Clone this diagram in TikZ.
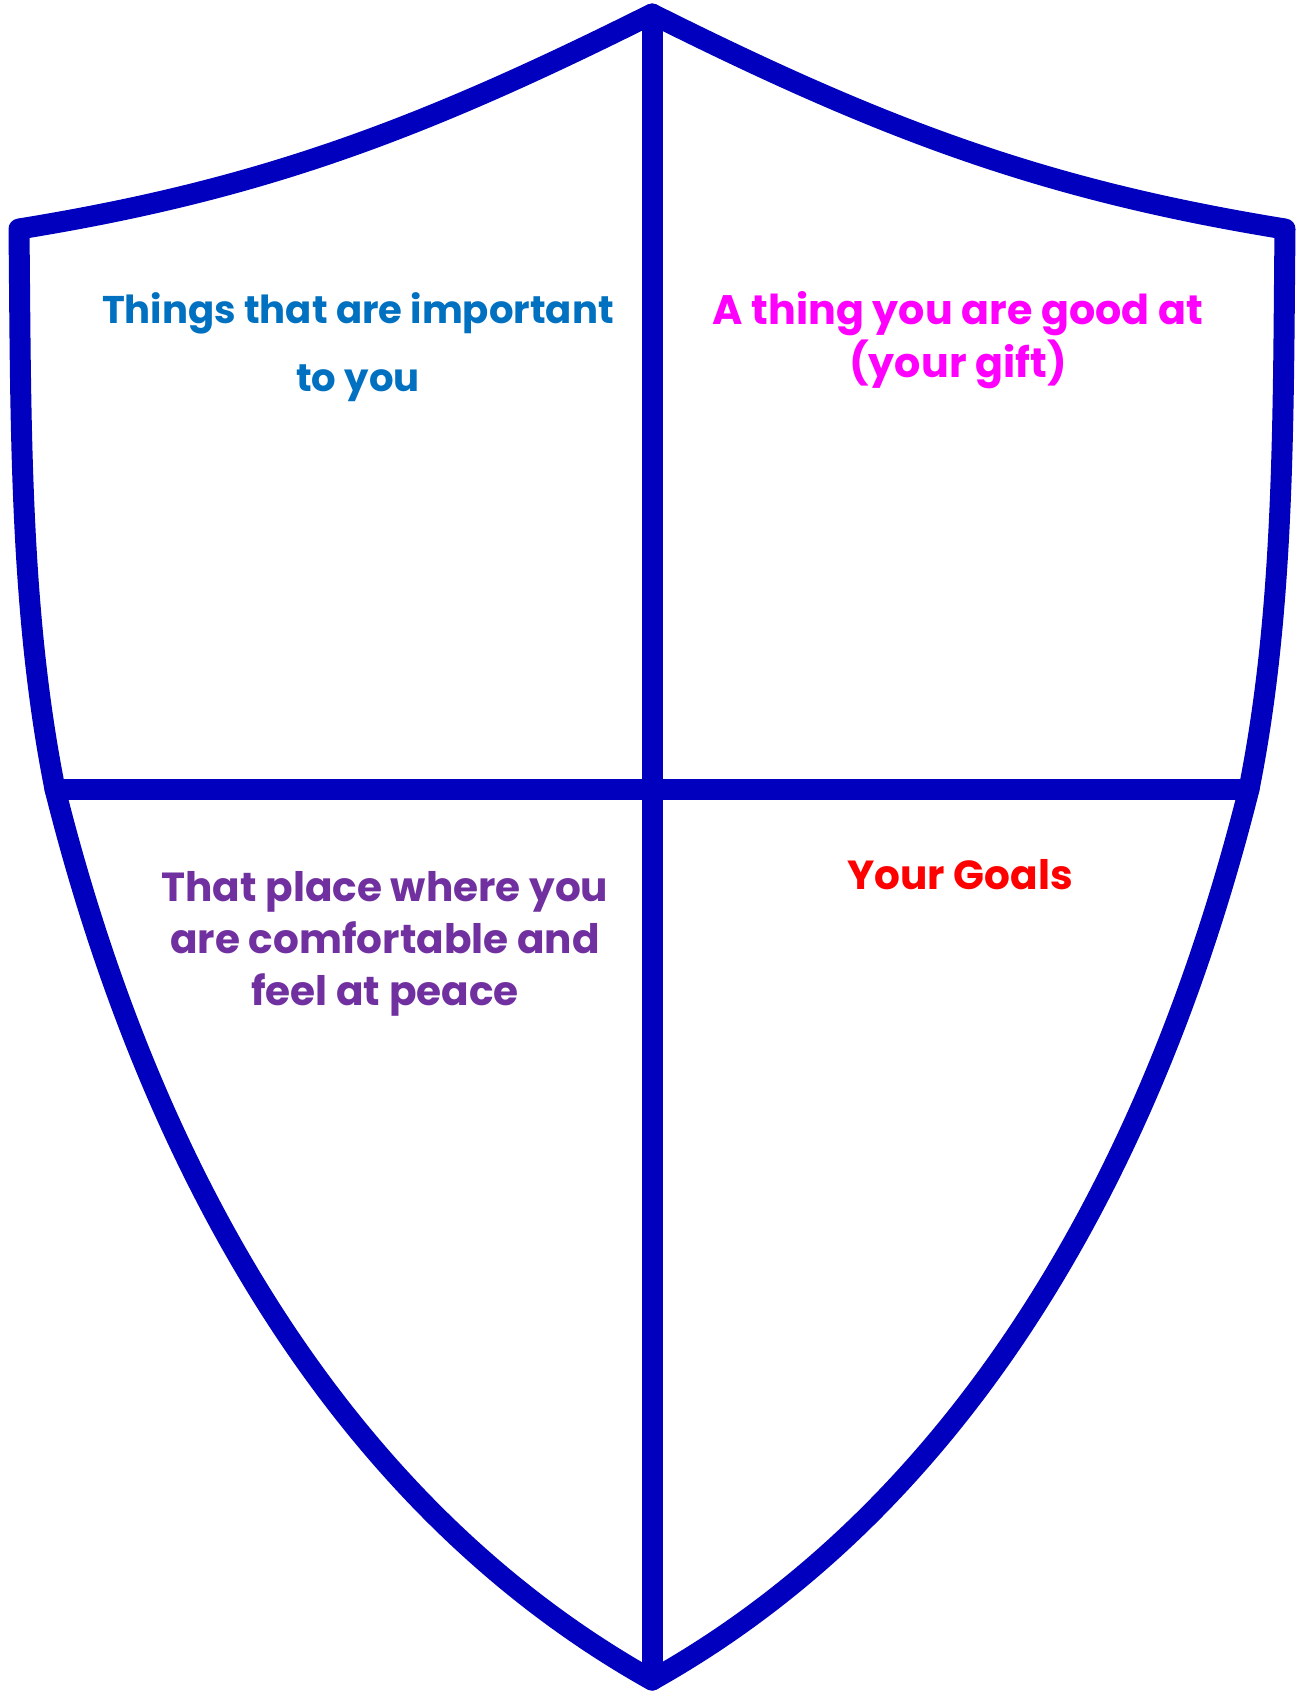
\documentclass[tikz,border=0pt]{standalone}
\usepackage{fontspec}
\setmainfont{Poppins}
\definecolor{shieldblue}{RGB}{0,0,190}
\definecolor{tblue}{RGB}{0,112,192}
\definecolor{tmag}{RGB}{255,0,255}
\definecolor{tpurple}{RGB}{112,48,160}
\definecolor{tred}{RGB}{255,0,0}
\tikzset{
  shieldline/.style={draw=shieldblue, line width=10.5pt, line join=round, line cap=round},
  lbl/.style={align=center, inner sep=0pt},
}
\begin{document}
\begin{tikzpicture}[x=0.5pt,y=-0.5pt]
\useasboundingbox[fill=white] (0,0) rectangle (1298,1694);
\coordinate (apex) at (652,14);
\coordinate (tl) at (19,229);
\coordinate (tr) at (1285,229);
\coordinate (ml) at (55,789);
\coordinate (mr) at (1249,789);
\coordinate (tip) at (652,1680);
\draw[shieldline] (tl) .. controls (260,190) and (420,130) .. (apex)
  .. controls (884,130) and (1044,190) .. (tr)
  .. controls (1283,420) and (1285,609) .. (mr)
  .. controls (1149,1189) and (952,1512) .. (tip)
  .. controls (352,1512) and (155,1189) .. (ml)
  .. controls (19,609) and (21,420) .. cycle;
\draw[shieldline] (apex) -- (tip);
\draw[shieldline] (ml) -- (mr);
\node[lbl, text=tblue, font=\bfseries\fontsize{19.3}{34}\selectfont] (t1) at (358,347) {Things that are important\\to you};
\node[lbl, text=tmag, font=\bfseries\fontsize{20.6}{26.5}\selectfont] (t2) at (958,340) {A thing you are good at\\(your gift)};
\node[lbl, text=tpurple, font=\bfseries\fontsize{20.3}{26}\selectfont] (t3) at (385,944) {That place where you\\are comfortable and\\feel at peace};
\node[lbl, text=tred, font=\bfseries\fontsize{20.3}{26}\selectfont] (t4) at (960,875) {Your Goals};
\end{tikzpicture}
\end{document}
